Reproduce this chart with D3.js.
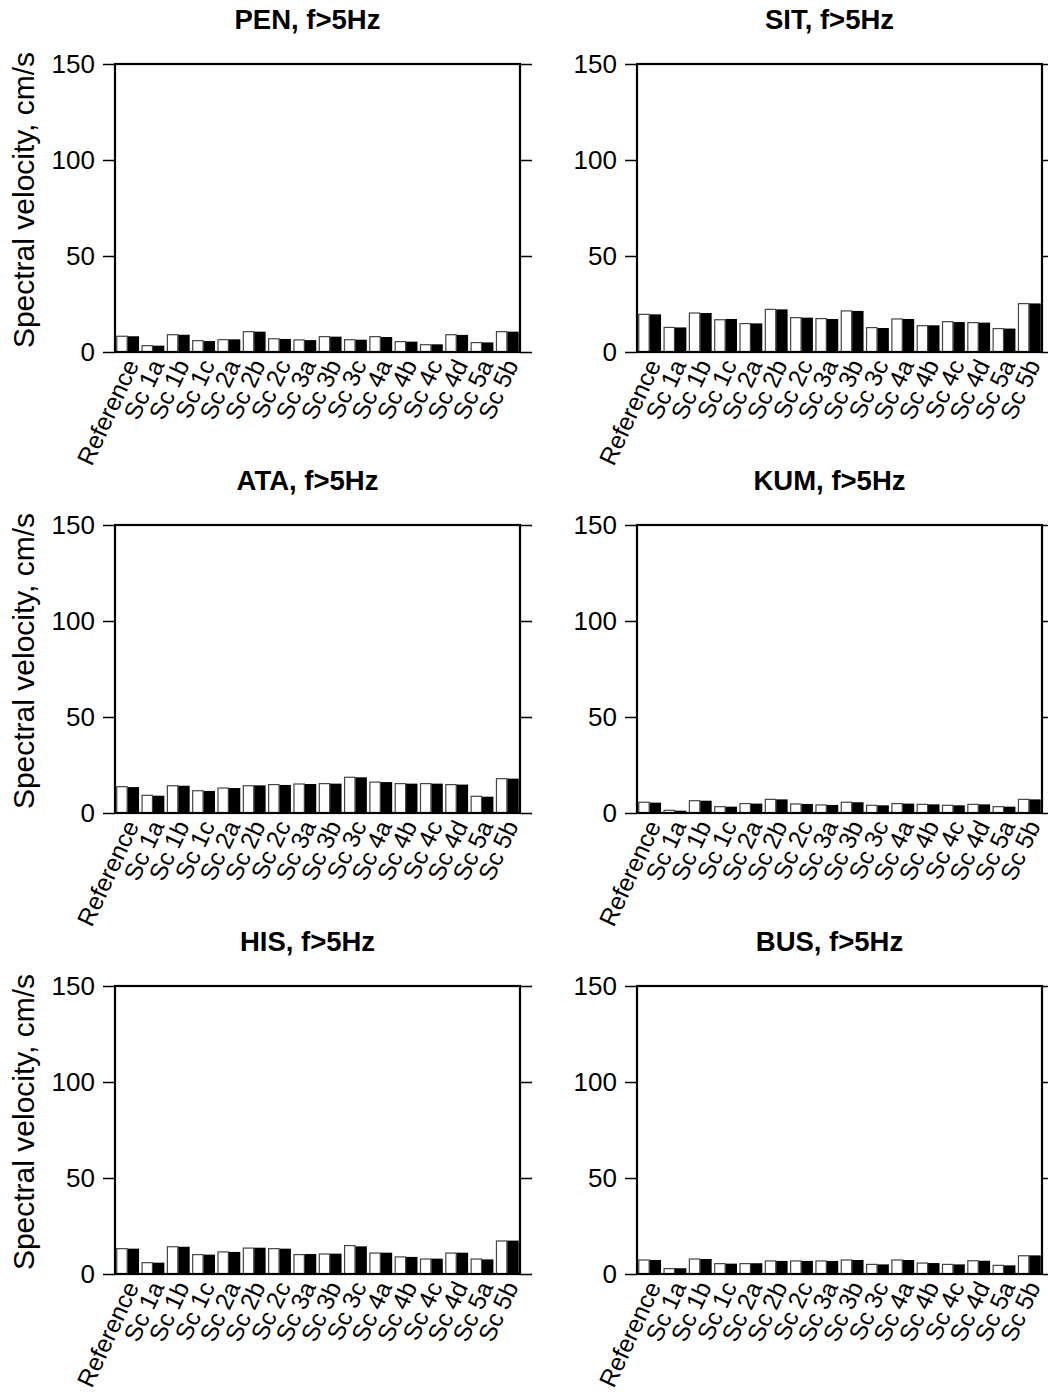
<!DOCTYPE html>
<html>
<head>
<meta charset="utf-8">
<script src="https://cdn.jsdelivr.net/npm/d3@7"></script>
<style>
  body { margin: 0; background: #fff; }
  text { font-family: "Liberation Sans", Arial, Helvetica, sans-serif; fill: #000; }
</style>
</head>
<body>
<svg id="chart" width="1048" height="1392"></svg>
<script>
// Scenario labels along each x axis
const categories = ["Reference", "Sc 1a", "Sc 1b", "Sc 1c", "Sc 2a", "Sc 2b", "Sc 2c",
  "Sc 3a", "Sc 3b", "Sc 3c", "Sc 4a", "Sc 4b", "Sc 4c", "Sc 4d", "Sc 5a", "Sc 5b"];
const yTicks = [0, 50, 100, 150];
const yDomain = [0, 150];
const bandLabel = "f>5Hz";
const yAxisLabel = "Spectral velocity, cm/s";

// Spectral velocity (cm/s) per station: open (white) and filled (black) bars
const penOpen   = [8.2, 3.3, 9.0, 5.9, 6.4, 10.6, 6.9, 6.3, 8.0, 6.4, 8.0, 5.4, 3.8, 9.0, 4.9, 10.6];
const penFilled = [8.2, 3.3, 9.0, 5.7, 6.6, 10.6, 6.8, 6.2, 8.0, 6.4, 7.8, 5.4, 4.0, 8.9, 5.0, 10.6];
const sitOpen   = [19.6, 12.8, 20.3, 16.8, 14.8, 22.2, 17.9, 17.4, 21.4, 12.7, 17.2, 13.7, 15.8, 15.3, 12.2, 25.2];
const sitFilled = [19.6, 12.8, 20.3, 17.2, 14.9, 22.2, 17.9, 17.2, 21.4, 12.5, 17.2, 13.9, 15.6, 15.3, 12.2, 25.3];
const ataOpen   = [13.7, 9.2, 14.2, 11.6, 13.0, 14.2, 14.8, 15.1, 15.3, 18.6, 16.1, 15.3, 15.3, 14.8, 8.7, 17.9];
const ataFilled = [13.5, 9.0, 14.2, 11.5, 13.0, 14.4, 14.6, 15.1, 15.3, 18.6, 16.1, 15.3, 15.3, 14.8, 8.5, 17.9];
const kumOpen   = [5.6, 1.4, 6.4, 3.3, 4.9, 7.1, 4.7, 4.2, 5.6, 4.0, 4.9, 4.5, 4.0, 4.5, 3.3, 7.1];
const kumFilled = [5.4, 1.2, 6.4, 3.3, 4.9, 7.1, 4.7, 4.2, 5.6, 4.0, 4.9, 4.5, 4.0, 4.5, 3.3, 7.1];
const hisOpen   = [13.2, 5.9, 14.2, 10.1, 11.5, 13.5, 13.2, 10.1, 10.4, 14.8, 10.9, 8.9, 7.8, 10.9, 7.8, 17.2];
const hisFilled = [13.2, 5.9, 14.2, 10.1, 11.5, 13.7, 13.2, 10.4, 10.6, 14.4, 11.1, 8.9, 8.0, 11.1, 7.6, 17.4];
const busOpen   = [7.3, 2.8, 7.8, 5.4, 5.4, 6.8, 6.8, 6.8, 7.3, 5.0, 7.3, 5.7, 5.0, 6.9, 4.5, 9.5];
const busFilled = [7.3, 3.0, 7.8, 5.4, 5.6, 6.8, 6.8, 6.8, 7.3, 5.0, 7.3, 5.7, 5.0, 6.9, 4.5, 9.7];

const stations = ["PEN", "SIT", "ATA", "KUM", "HIS", "BUS"];
const openSeries = [penOpen, sitOpen, ataOpen, kumOpen, hisOpen, busOpen];
const filledSeries = [penFilled, sitFilled, ataFilled, kumFilled, hisFilled, busFilled];

// Panel grid geometry
const colLeft = [115, 637];
const rowTop = [64, 525, 986];
const plotW = 405, plotH = 288;
const tickFont = 26, catFont = 24.5, yLabelFont = 30;

const svg = d3.select("#chart");

stations.forEach((name, i) => {
  const col = i % 2, row = Math.floor(i / 2);
  const g = svg.append("g")
    .attr("transform", `translate(${colLeft[col]},${rowTop[row]})`);

  const x = d3.scaleBand().domain(categories).range([0, plotW]).paddingInner(0.1).paddingOuter(0.05);
  const y = d3.scaleLinear().domain(yDomain).range([plotH, 0]);
  const half = x.bandwidth() / 2;

  const rows = categories.map((c, k) => ({ c, open: openSeries[i][k], filled: filledSeries[i][k] }));

  // open bars
  g.selectAll("rect.open").data(rows).join("rect")
    .attr("class", "open")
    .attr("x", d => x(d.c) + 0.5)
    .attr("y", d => y(d.open))
    .attr("width", half - 1)
    .attr("height", d => plotH - y(d.open))
    .attr("fill", "#fff")
    .attr("stroke", "#444")
    .attr("stroke-width", 1.2);

  // filled bars
  g.selectAll("rect.filled").data(rows).join("rect")
    .attr("class", "filled")
    .attr("x", d => x(d.c) + half)
    .attr("y", d => y(d.filled))
    .attr("width", half)
    .attr("height", d => plotH - y(d.filled))
    .attr("fill", "#000");

  // left axis with labels
  const yl = g.append("g").call(d3.axisLeft(y).tickValues(yTicks).tickSize(12).tickPadding(8));
  yl.select(".domain").remove();
  yl.selectAll("line").attr("stroke", "#000").attr("stroke-width", 1.5);
  yl.selectAll("text").style("font-size", tickFont + "px").attr("fill", "#000");

  // right axis ticks (outward, no labels)
  const yr = g.append("g").attr("transform", `translate(${plotW},0)`)
    .call(d3.axisRight(y).tickValues(yTicks).tickSize(12).tickFormat(""));
  yr.select(".domain").remove();
  yr.selectAll("line").attr("stroke", "#000").attr("stroke-width", 1.5);

  // frame
  g.append("rect")
    .attr("x", 0).attr("y", 0).attr("width", plotW).attr("height", plotH)
    .attr("fill", "none").attr("stroke", "#000").attr("stroke-width", 2.2);

  // rotated category labels
  g.append("g").selectAll("text").data(categories).join("text")
    .attr("transform", d => `translate(${x(d) + x.bandwidth() / 2 + 4},${plotH + 9}) rotate(-65)`)
    .attr("text-anchor", "end")
    .attr("dy", "0.35em")
    .style("font-size", catFont + "px")
    .text(d => d);

  // title
  g.append("text")
    .attr("x", plotW / 2 - 10)
    .attr("y", -35)
    .attr("text-anchor", "middle")
    .style("font-size", "27.5px")
    .style("font-weight", "bold")
    .text(`${name}, ${bandLabel}`);

  // y axis title on the left column
  if (col === 0) {
    g.append("text")
      .attr("transform", `translate(${-92},${plotH / 2 - 8}) rotate(-90)`)
      .attr("text-anchor", "middle")
      .attr("dy", "0.35em")
      .style("font-size", yLabelFont + "px")
      .text(yAxisLabel);
  }
});
</script>
</body>
</html>
